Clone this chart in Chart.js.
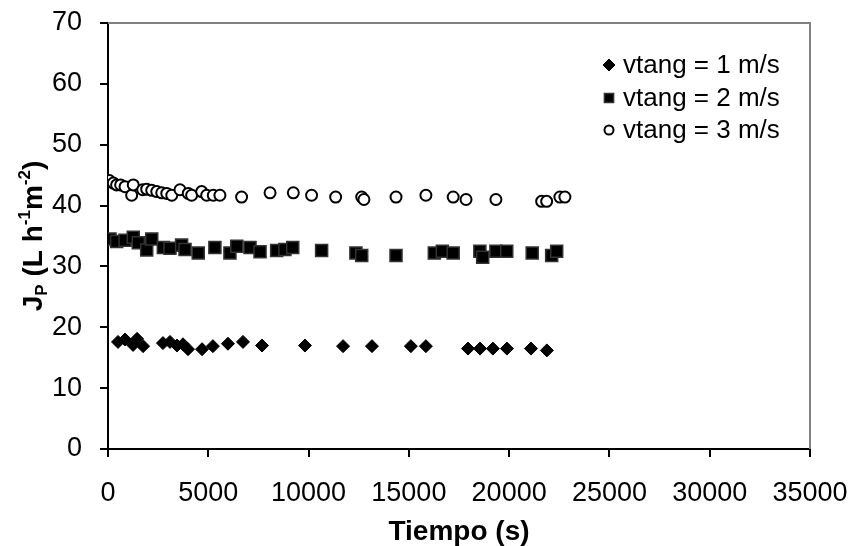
<!DOCTYPE html>
<html>
<head>
<meta charset="utf-8">
<script src="https://cdn.jsdelivr.net/npm/chart.js@4"></script>
<style>
  html, body { margin: 0; padding: 0; background: #fff; }
  canvas { display: block; }
</style>
</head>
<body>
<canvas id="fluxChart" width="854" height="546"></canvas>
<script>
// datos: tiempo (s) y flujo de permeado Jp
const labels = ['vtang = 1 m/s', 'vtang = 2 m/s', 'vtang = 3 m/s'];

const t1 = [500, 850, 1250, 1450, 1750, 2740, 3090, 3440, 3740, 3990, 4690, 5230, 5980, 6730, 7680, 9820, 11720, 13160, 15100, 15850, 17950, 18550, 19190, 19890, 21090, 21880];
const j1 = [17.6, 18.0, 17.1, 18.1, 16.9, 17.4, 17.6, 17.0, 17.2, 16.4, 16.4, 16.9, 17.3, 17.6, 17.0, 17.0, 16.9, 16.9, 16.9, 16.9, 16.5, 16.5, 16.5, 16.5, 16.5, 16.2];

const t2 = [100, 430, 850, 1260, 1510, 1930, 2180, 2760, 3090, 3670, 3840, 4500, 5330, 6080, 6420, 7080, 7580, 8410, 8820, 9210, 10650, 12360, 12650, 14360, 16270, 16670, 17210, 18540, 18680, 19340, 19880, 21150, 22120, 22370];
const j2 = [34.5, 34.1, 34.3, 34.8, 33.9, 32.7, 34.5, 33.1, 33.0, 33.5, 32.8, 32.2, 33.1, 32.2, 33.3, 33.1, 32.4, 32.6, 32.8, 33.1, 32.6, 32.2, 31.8, 31.8, 32.2, 32.5, 32.2, 32.5, 31.5, 32.5, 32.5, 32.2, 31.8, 32.5];

const t3 = [65, 265, 430, 630, 850, 1180, 1260, 1730, 1930, 2180, 2430, 2680, 2930, 3180, 3590, 4000, 4170, 4670, 4920, 5250, 5580, 6660, 8080, 9240, 10150, 11350, 12650, 12760, 14360, 15850, 17210, 17850, 19340, 21620, 21870, 22530, 22780];
const j3 = [44.1, 43.7, 43.4, 43.4, 43.1, 41.7, 43.4, 42.6, 42.7, 42.5, 42.3, 42.1, 42.0, 41.7, 42.6, 42.0, 41.7, 42.3, 41.7, 41.7, 41.7, 41.4, 42.1, 42.1, 41.7, 41.4, 41.4, 41.0, 41.4, 41.7, 41.4, 41.0, 41.0, 40.7, 40.7, 41.4, 41.4];

const FONT = 'Arial, "Liberation Sans", sans-serif';

function toPoints(xs, ys) {
  return xs.map((x, i) => ({ x: x, y: ys[i] }));
}

// marco gris arriba y a la derecha
const framePlugin = {
  id: 'frame',
  beforeDatasetsDraw(chart) {
    const { ctx, chartArea: a } = chart;
    ctx.save();
    ctx.strokeStyle = '#808080';
    ctx.lineWidth = 2;
    ctx.beginPath();
    ctx.moveTo(a.left, a.top);
    ctx.lineTo(a.right, a.top);
    ctx.lineTo(a.right, a.bottom);
    ctx.stroke();
    ctx.restore();
  }
};

// titulo del eje Y con subindice y superindices
const yTitlePlugin = {
  id: 'yTitle',
  afterDraw(chart) {
    const { ctx, chartArea: a } = chart;
    const size = 28;
    const small = Math.round(size * 0.62);
    const parts = [
      { t: 'J', s: size, dy: 0 },
      { t: 'P', s: small, dy: size * 0.18 },
      { t: ' (L h', s: size, dy: 0 },
      { t: '-1', s: small, dy: -size * 0.42 },
      { t: 'm', s: size, dy: 0 },
      { t: '-2', s: small, dy: -size * 0.42 },
      { t: ')', s: size, dy: 0 }
    ];
    ctx.save();
    let total = 0;
    parts.forEach(p => {
      ctx.font = 'bold ' + p.s + 'px ' + FONT;
      p.w = ctx.measureText(p.t).width;
      total += p.w;
    });
    ctx.translate(42, (a.top + a.bottom) / 2);
    ctx.rotate(-Math.PI / 2);
    ctx.fillStyle = '#000';
    ctx.textBaseline = 'alphabetic';
    let x = -total / 2;
    parts.forEach(p => {
      ctx.font = 'bold ' + p.s + 'px ' + FONT;
      ctx.fillText(p.t, x, p.dy);
      x += p.w;
    });
    ctx.restore();
  }
};

// leyenda dentro del area del grafico
const legendPlugin = {
  id: 'innerLegend',
  afterDraw(chart) {
    const { ctx } = chart;
    const rows = [65, 98, 130];
    const sizes = [6, 6.5, 4.5];
    chart.data.datasets.forEach((ds, i) => {
      ctx.save();
      ctx.fillStyle = ds.pointBackgroundColor;
      ctx.strokeStyle = ds.pointBorderColor;
      ctx.lineWidth = ds.pointBorderWidth;
      Chart.helpers.drawPoint(ctx, {
        pointStyle: ds.pointStyle,
        radius: sizes[i],
        borderWidth: ds.pointBorderWidth
      }, 609, rows[i]);
      ctx.font = '26px ' + FONT;
      ctx.fillStyle = '#000';
      ctx.textBaseline = 'middle';
      ctx.textAlign = 'left';
      ctx.fillText(ds.label, 623, rows[i] + 1);
      ctx.restore();
    });
  }
};

const ctx = document.getElementById('fluxChart').getContext('2d');
const chart = new Chart(ctx, {
  type: 'scatter',
  data: {
    datasets: [
      {
        label: labels[0],
        data: toPoints(t1, j1),
        pointStyle: 'rectRot',
        pointRadius: 6.5,
        pointBackgroundColor: '#000',
        pointBorderColor: '#000',
        pointBorderWidth: 1
      },
      {
        label: labels[1],
        data: toPoints(t2, j2),
        pointStyle: 'rect',
        pointRadius: 8.5,
        pointBackgroundColor: '#000',
        pointBorderColor: '#333',
        pointBorderWidth: 1.5
      },
      {
        label: labels[2],
        data: toPoints(t3, j3),
        pointStyle: 'circle',
        pointRadius: 5.5,
        pointBackgroundColor: '#fff',
        pointBorderColor: '#000',
        pointBorderWidth: 2
      }
    ]
  },
  options: {
    responsive: false,
    animation: false,
    devicePixelRatio: 1,
    layout: { padding: { top: 23, right: 44, left: 0, bottom: 0 } },
    plugins: {
      legend: { display: false },
      tooltip: { enabled: false }
    },
    scales: {
      x: {
        type: 'linear',
        min: 0,
        max: 35000,
        afterFit: s => {
          s.height = 97;
          s.paddingLeft = 0;
          s.paddingRight = 0;
        },
        ticks: {
          stepSize: 5000,
          color: '#000',
          font: { family: FONT, size: 27 },
          padding: 20,
          maxRotation: 0,
          callback: v => String(v)
        },
        grid: { drawOnChartArea: false, color: '#000', lineWidth: 2, tickLength: 8 },
        border: { color: '#000', width: 2 },
        title: {
          display: true,
          text: 'Tiempo (s)',
          color: '#000',
          font: { family: FONT, size: 28, weight: 'bold', lineHeight: 1 },
          padding: { top: 0, bottom: 0 }
        }
      },
      y: {
        min: 0,
        max: 70,
        afterFit: s => {
          s.width = 108;
          s.paddingTop = 0;
          s.paddingBottom = 0;
        },
        ticks: {
          stepSize: 10,
          color: '#000',
          font: { family: FONT, size: 27 },
          padding: 18,
          callback: v => String(v)
        },
        grid: { drawOnChartArea: false, color: '#000', lineWidth: 2, tickLength: 8 },
        border: { color: '#000', width: 2 }
      }
    }
  },
  plugins: [framePlugin, yTitlePlugin, legendPlugin]
});
</script>
</body>
</html>
